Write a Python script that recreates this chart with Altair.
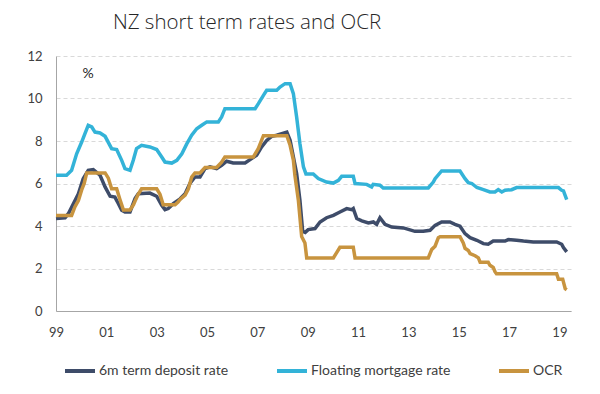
import altair as alt
import pandas as pd

# Series names (legend order) and colours
series_names = ["6m term deposit rate", "Floating mortgage rate", "OCR"]
series_colors = ["#3E4C69", "#33B3D8", "#C8943F"]

# (decimal year, %)
term_deposit = [
    (1999.00, 4.35), (1999.36, 4.39), (1999.49, 4.58), (1999.69, 5.05), (1999.89, 5.52),
    (2000.08, 6.23), (2000.28, 6.62), (2000.48, 6.65), (2000.75, 6.39), (2000.95, 5.84),
    (2001.15, 5.40), (2001.34, 5.36), (2001.48, 5.05), (2001.61, 4.74), (2001.74, 4.66),
    (2001.94, 4.66), (2002.14, 5.29), (2002.27, 5.52), (2002.73, 5.55), (2003.00, 5.40),
    (2003.20, 4.97), (2003.33, 4.77), (2003.46, 4.82), (2003.66, 5.05), (2003.93, 5.28),
    (2004.13, 5.52), (2004.32, 6.00), (2004.52, 6.31), (2004.72, 6.31), (2004.92, 6.70),
    (2005.12, 6.78), (2005.38, 6.70), (2005.58, 6.86), (2005.78, 7.05), (2006.04, 6.97),
    (2006.51, 6.97), (2006.77, 7.17), (2006.97, 7.33), (2007.17, 7.72), (2007.37, 8.03),
    (2007.57, 8.22), (2007.77, 8.27), (2007.97, 8.35), (2008.17, 8.42), (2008.30, 8.03),
    (2008.43, 7.25), (2008.56, 6.47), (2008.69, 5.21), (2008.80, 3.75), (2008.90, 3.70),
    (2009.02, 3.83), (2009.29, 3.88), (2009.49, 4.19), (2009.75, 4.39), (2010.02, 4.50),
    (2010.28, 4.66), (2010.55, 4.82), (2010.75, 4.77), (2010.81, 4.82), (2010.95, 4.35),
    (2011.15, 4.24), (2011.41, 4.14), (2011.61, 4.19), (2011.74, 4.08), (2011.87, 4.39),
    (2012.07, 4.08), (2012.34, 3.95), (2012.80, 3.91), (2013.26, 3.75), (2013.59, 3.75),
    (2013.86, 3.80), (2014.06, 4.03), (2014.32, 4.19), (2014.65, 4.19), (2014.85, 4.08),
    (2015.05, 3.99), (2015.25, 3.64), (2015.45, 3.45), (2015.72, 3.33), (2015.98, 3.17),
    (2016.17, 3.14), (2016.37, 3.29), (2016.84, 3.29), (2016.97, 3.36), (2017.30, 3.33),
    (2017.57, 3.29), (2017.96, 3.25), (2018.89, 3.25), (2019.09, 3.14), (2019.16, 2.98),
    (2019.29, 2.78),
]

floating_mortgage = [
    (1999.00, 6.39), (1999.42, 6.39), (1999.62, 6.62), (1999.82, 7.40), (2000.02, 7.95),
    (2000.15, 8.35), (2000.28, 8.74), (2000.42, 8.66), (2000.55, 8.42), (2000.75, 8.38),
    (2000.95, 8.22), (2001.21, 7.64), (2001.41, 7.60), (2001.61, 7.09), (2001.74, 6.70),
    (2001.94, 6.62), (2002.07, 7.09), (2002.20, 7.64), (2002.40, 7.80), (2002.73, 7.72),
    (2003.00, 7.60), (2003.20, 7.25), (2003.33, 7.01), (2003.60, 6.96), (2003.80, 7.09),
    (2004.00, 7.40), (2004.19, 7.85), (2004.39, 8.27), (2004.59, 8.58), (2004.79, 8.74),
    (2004.99, 8.90), (2005.45, 8.90), (2005.58, 9.13), (2005.71, 9.52), (2006.91, 9.52),
    (2007.04, 9.76), (2007.24, 10.15), (2007.37, 10.39), (2007.77, 10.39), (2007.90, 10.54),
    (2008.10, 10.70), (2008.30, 10.70), (2008.43, 10.23), (2008.56, 9.13), (2008.69, 7.88),
    (2008.83, 6.78), (2008.93, 6.45), (2009.22, 6.45), (2009.42, 6.23), (2009.75, 6.07),
    (2010.02, 6.02), (2010.22, 6.15), (2010.35, 6.34), (2010.81, 6.34), (2010.88, 6.00),
    (2011.34, 5.96), (2011.54, 5.84), (2011.60, 5.96), (2011.87, 5.92), (2012.00, 5.79),
    (2013.79, 5.79), (2013.99, 6.07), (2014.06, 6.23), (2014.32, 6.59), (2015.05, 6.59),
    (2015.25, 6.23), (2015.38, 6.04), (2015.52, 6.00), (2015.72, 5.81), (2015.98, 5.71),
    (2016.24, 5.60), (2016.44, 5.60), (2016.57, 5.71), (2016.71, 5.60), (2016.84, 5.68),
    (2017.10, 5.71), (2017.30, 5.81), (2018.96, 5.81), (2019.09, 5.68), (2019.16, 5.65),
    (2019.29, 5.24),
]

ocr = [
    (1999.00, 4.50), (1999.62, 4.50), (1999.75, 4.90), (1999.89, 5.20), (2000.02, 5.70),
    (2000.12, 6.00), (2000.22, 6.50), (2000.95, 6.50), (2001.08, 6.25), (2001.21, 5.75),
    (2001.41, 5.75), (2001.54, 5.25), (2001.68, 4.75), (2001.94, 4.75), (2002.08, 5.00),
    (2002.17, 5.25), (2002.27, 5.50), (2002.40, 5.75), (2003.00, 5.75), (2003.13, 5.50),
    (2003.26, 5.00), (2003.73, 5.00), (2003.85, 5.13), (2003.93, 5.25), (2004.13, 5.45),
    (2004.26, 5.75), (2004.39, 6.30), (2004.52, 6.50), (2004.72, 6.50), (2004.92, 6.75),
    (2005.38, 6.75), (2005.58, 7.00), (2005.71, 7.25), (2006.84, 7.25), (2007.04, 7.65),
    (2007.24, 8.25), (2008.17, 8.25), (2008.30, 7.80), (2008.43, 7.10), (2008.49, 6.40),
    (2008.63, 5.20), (2008.76, 3.50), (2008.89, 3.20), (2008.96, 2.50), (2010.02, 2.50),
    (2010.15, 2.75), (2010.28, 3.00), (2010.81, 3.00), (2010.88, 2.50), (2013.79, 2.50),
    (2013.93, 2.90), (2014.06, 3.05), (2014.19, 3.45), (2014.26, 3.50), (2015.05, 3.50),
    (2015.18, 3.20), (2015.25, 2.95), (2015.38, 2.85), (2015.45, 2.70), (2015.65, 2.60),
    (2015.78, 2.50), (2015.85, 2.30), (2016.17, 2.30), (2016.24, 2.15), (2016.37, 2.05),
    (2016.44, 1.85), (2016.50, 1.75), (2018.89, 1.75), (2018.96, 1.50), (2019.13, 1.50),
    (2019.23, 1.05), (2019.29, 1.00),
]

x_ticks = list(range(1999, 2020, 2))
y_ticks = [0, 2, 4, 6, 8, 10, 12]

rows = []
for name, pts in zip(series_names, [term_deposit, floating_mortgage, ocr]):
    for t, v in pts:
        rows.append({"series": name, "t": t, "v": v})
df = pd.DataFrame(rows)

FONT = "Lato"
TXT = "#404040"

x_enc = alt.X(
    "t:Q",
    scale=alt.Scale(domain=[1999, 2019.46], nice=False, zero=False),
    axis=alt.Axis(
        values=x_ticks, labelExpr="slice(toString(datum.value), 2)", title=None,
        grid=False, ticks=False, domainColor="#a6a6a6", domainWidth=1,
        labelFont=FONT, labelFontSize=13, labelColor=TXT, labelPadding=15,
        labelFlush=False,
    ),
)
y_enc = alt.Y(
    "v:Q",
    scale=alt.Scale(domain=[0, 12], nice=False),
    axis=alt.Axis(
        values=y_ticks, title=None, grid=True, gridColor="#d9d9d9", gridDash=[4, 3],
        gridWidth=1, ticks=False, domainColor="#a6a6a6", domainWidth=1,
        labelFont=FONT, labelFontSize=13, labelColor=TXT, labelPadding=14,
    ),
)
color_enc = alt.Color(
    "series:N",
    scale=alt.Scale(domain=series_names, range=series_colors),
    legend=alt.Legend(
        orient="none", legendX=7, legendY=298, direction="horizontal", title=None,
        symbolType="stroke", symbolStrokeWidth=4, symbolSize=900,
        labelFont=FONT, labelFontSize=14, labelColor=TXT, columnPadding=40,
        labelOffset=2, padding=0,
    ),
)

base = alt.Chart(df)
layers = [
    base.transform_filter(alt.datum.series == name)
    .mark_line(strokeWidth=3.5)
    .encode(x=x_enc, y=y_enc, color=color_enc)
    for name in series_names
]

pct = alt.Chart(pd.DataFrame({"label": ["%"]})).mark_text(
    font=FONT, fontSize=14, color="#262626", align="center", baseline="middle"
).encode(x=alt.value(32), y=alt.value(18), text="label:N")

chart = (
    alt.layer(*layers, pct)
    .properties(
        width=515,
        height=255,
        title=alt.TitleParams(
            "NZ short term rates and OCR", anchor="start", dx=86, fontSize=20.5,
            font="Open Sans", fontWeight=300, color="#262626", offset=17,
        ),
        autosize=alt.AutoSizeParams(type="none"),
        padding={"left": 48, "top": 48, "right": 20, "bottom": 80},
    )
    .configure_view(stroke=None)
)

chart.save("out.html", embed_options={"renderer": "svg", "actions": False})
